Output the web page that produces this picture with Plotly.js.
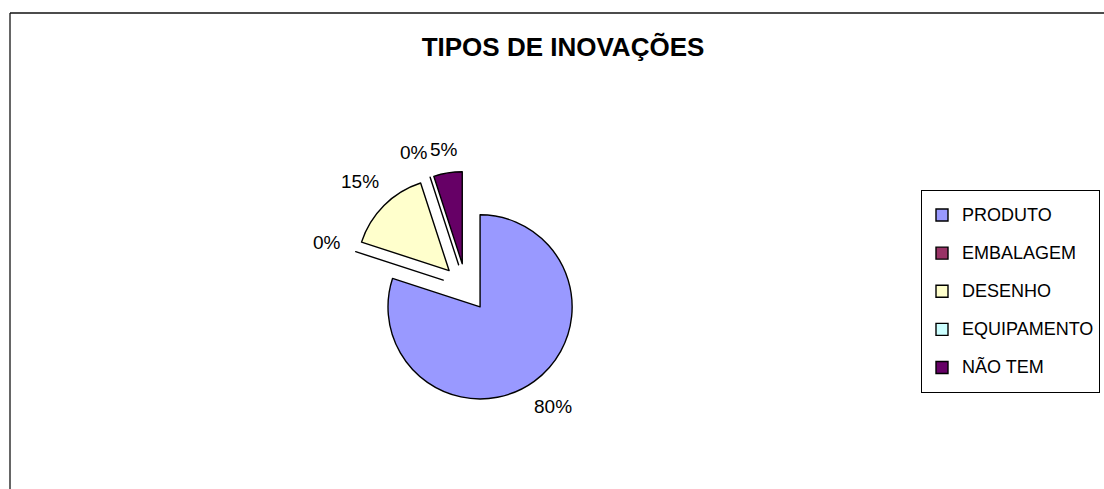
<!DOCTYPE html>
<html>
<head>
<meta charset="utf-8">
<script src="https://cdn.plot.ly/plotly-3.0.1.min.js"></script>
<style>html,body{margin:0;padding:0;background:#fff;}#chart{width:1104px;height:489px;}</style>
</head>
<body>
<div id="chart"></div>
<script>
const categories = ["PRODUTO", "EMBALAGEM", "DESENHO", "EQUIPAMENTO", "NÃO TEM"];
const values = [80, 0, 15, 0, 5];
const sliceColors = ["#9999FF", "#993366", "#FFFFCC", "#CCFFFF", "#660066"];
const chartTitle = "TIPOS DE INOVAÇÕES";

const W = 1104, H = 489;
const px = x => x / W;
const py = y => 1 - y / H;
const FONT = "Liberation Sans, Arial, sans-serif";
const LABEL_SIZE = 19;

// pie geometry (domain in pixels)
const dom = {x0: 350, x1: 582, y0: 171.5, y1: 403.5};
const pullFrac = 0.26;
const cx = (dom.x0 + dom.x1) / 2, cy = (dom.y0 + dom.y1) / 2;
const outerR = Math.min(dom.x1 - dom.x0, dom.y1 - dom.y0) / 2;

const trace = {
  type: "pie",
  labels: categories.map(c => '<span style="font-size:18px;baseline-shift:5px">' + c + '</span>'),
  values: values,
  sort: false,
  direction: "clockwise",
  rotation: 0,
  pull: categories.map(() => pullFrac),
  marker: {colors: sliceColors, line: {color: "#000000", width: 1.4}},
  textinfo: "none",
  domain: {x: [px(dom.x0), px(dom.x1)], y: [py(dom.y1), py(dom.y0)]},
  hoverinfo: "label+percent"
};

// percentage labels placed outside each slice along its bisector
const ctx = document.createElement("canvas").getContext("2d");
ctx.font = LABEL_SIZE + "px " + FONT;
const total = values.reduce((a, b) => a + b, 0);
let cum = 0;
const labels = values.map(v => {
  const theta = 2 * Math.PI * (cum + v / 2) / total;
  cum += v;
  const text = Math.round(100 * v / total) + "%";
  const w = ctx.measureText(text).width, h = LABEL_SIZE * 0.72;
  const dx = Math.sin(theta), dy = -Math.cos(theta);
  const dist = outerR + 15 + Math.abs(dx) * w / 2 + Math.abs(dy) * h / 2;
  return {text, w, h, x: cx + dist * dx, y: cy + dist * dy};
});
// resolve overlaps: push the earlier label left of the next one
for (let i = labels.length - 2; i >= 0; i--) {
  const a = labels[i], b = labels[i + 1];
  const overlapY = Math.abs(a.y - b.y) < (a.h + b.h) / 2 + 2;
  const overlapX = (a.x + a.w / 2) - (b.x - b.w / 2);
  if (overlapY && overlapX > -3 && a.x <= b.x) a.x -= overlapX + 3;
}
const labelAnnotations = labels.map(l => ({
  xref: "paper", yref: "paper", x: px(l.x), y: py(l.y),
  xanchor: "center", yanchor: "middle", showarrow: false,
  text: l.text,
  font: {family: FONT, size: LABEL_SIZE, color: "#000"}
}));

const layout = {
  width: W, height: H,
  margin: {l: 0, r: 0, t: 0, b: 0},
  paper_bgcolor: "#ffffff",
  font: {family: FONT, color: "#000"},
  title: {
    text: "<b>" + chartTitle + "</b>",
    x: px(563), xanchor: "center",
    y: py(47), yanchor: "middle", yref: "paper",
    font: {family: FONT, size: 26, color: "#000"}
  },
  showlegend: true,
  legend: {
    x: px(921), xanchor: "left",
    y: py(190), yanchor: "top",
    bgcolor: "#ffffff",
    bordercolor: "#000000",
    borderwidth: 1,
    font: {family: FONT, size: 27, color: "#000"},
    itemwidth: 30
  },
  annotations: labelAnnotations,
  shapes: [
    {type: "line", xref: "paper", yref: "paper", x0: px(10), x1: px(10), y0: py(495), y1: py(13), line: {color: "#333", width: 1.5}},
    {type: "line", xref: "paper", yref: "paper", x0: px(10), x1: px(1110), y0: py(13), y1: py(13), line: {color: "#111", width: 1.5}}
  ]
};

Plotly.newPlot("chart", [trace], layout, {displayModeBar: false, staticPlot: true});
</script>
</body>
</html>
